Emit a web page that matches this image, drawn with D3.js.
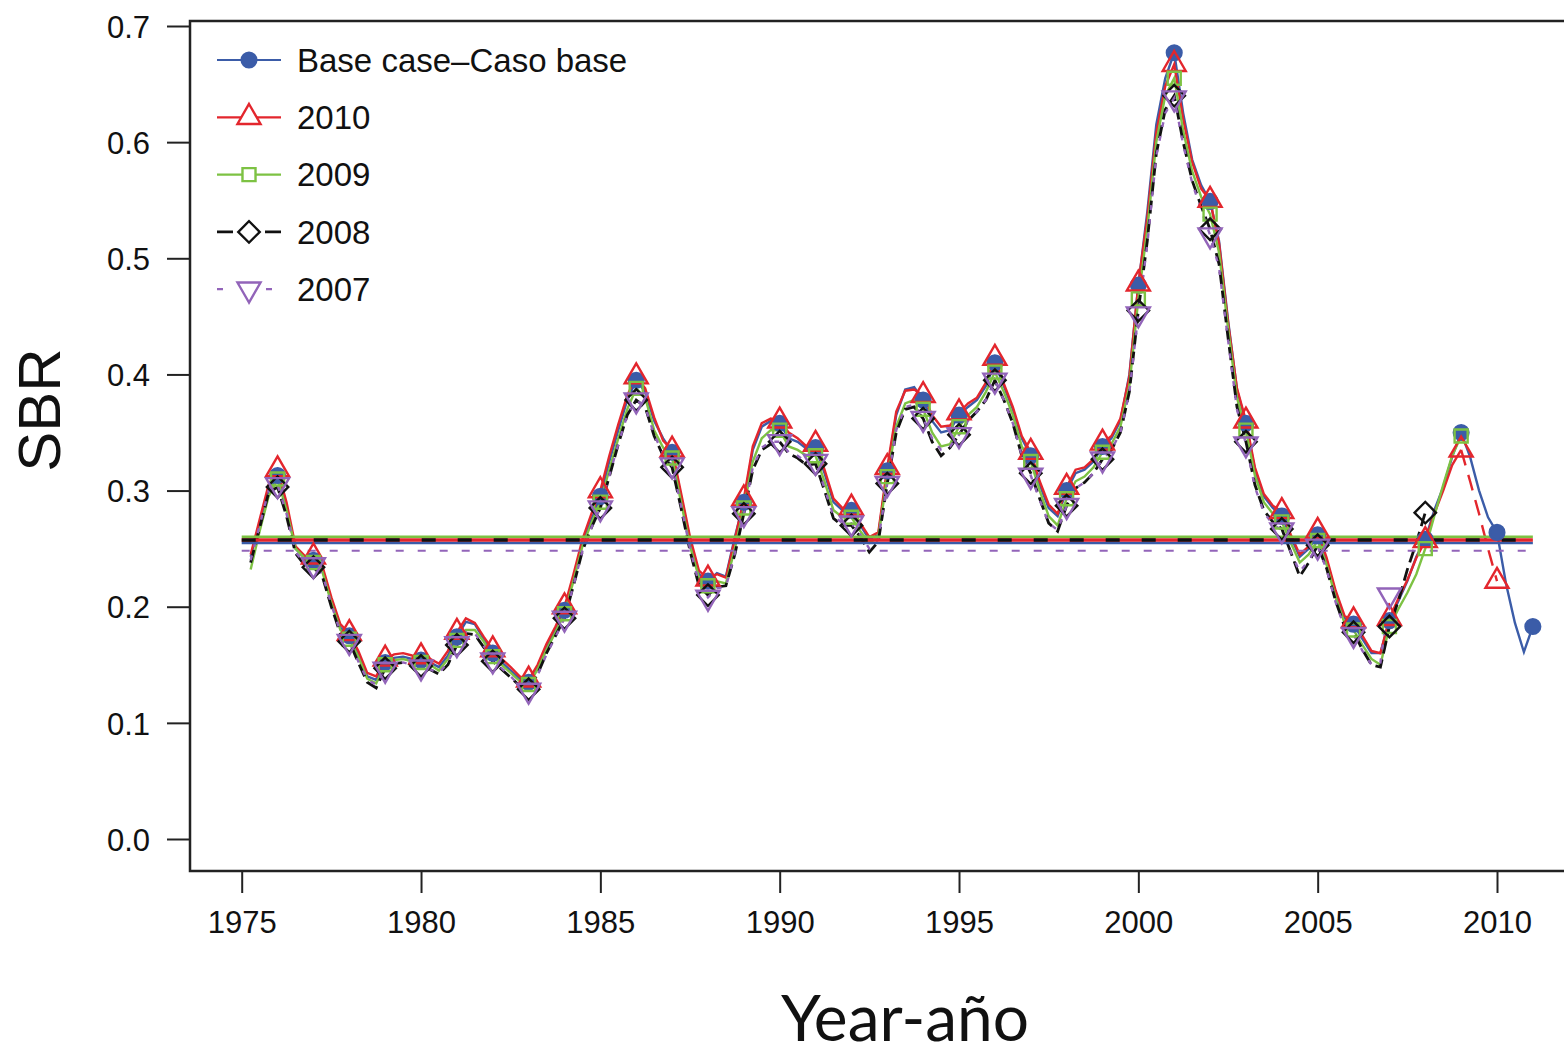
<!DOCTYPE html>
<html>
<head>
<meta charset="utf-8">
<script src="https://cdn.jsdelivr.net/npm/d3@7"></script>
<style>
	body { margin: 0; background: #fff; }
	text { font-family: "Liberation Sans", Arial, sans-serif; fill: #111; }
</style>
</head>
<body>
<div class="sbr-chart"></div>
<script>
// quarterly SBR values, first value is 1975.25 for every series
var seriesNames = ["Base case\u2013Caso base", "2010", "2009", "2008", "2007"];
var startYear = 1975.25;

var baseCase = [
	.243, .272, .300,
	.313, .285, .250, .242,  .240, .232, .205, .182,  .175, .160, .140, .137,  .152, .156, .157, .155,
	.154, .152, .148, .158,  .174, .187, .185, .172,  .160, .152, .145, .138,  .135, .148, .165, .180,
	.197, .225, .255, .275,  .295, .325, .352, .378,  .395, .385, .360, .345,  .333, .295, .257, .228,
	.222, .229, .226, .260,  .290, .335, .355, .360,  .358, .345, .342, .336,  .337, .315, .290, .283,
	.283, .270, .258, .262,  .317, .365, .387, .389,  .378, .360, .350, .352,  .365, .372, .378, .390,
	.410, .390, .370, .345,  .330, .305, .285, .278,  .300, .315, .318, .325,  .338, .345, .360, .400,
	.477, .540, .615, .655,  .677, .625, .585, .563,  .549, .515, .447, .387,  .358, .318, .295, .285,
	.278, .260, .243, .250,  .262, .240, .212, .190,  .185, .172, .160, .160,  .188, .205, .222, .243,
	.258, .283, .303, .329,  .350, .329, .300, .277,  .264, .220, .186, .161,  .183
];
var run2010 = [
	.245, .275, .305,
	.318, .290, .252, .244,  .243, .235, .208, .185,  .177, .162, .143, .140,  .155, .159, .160, .158,
	.157, .155, .151, .162,  .178, .190, .186, .174,  .163, .155, .148, .140,  .137, .150, .168, .183,
	.200, .228, .258, .280,  .300, .330, .357, .382,  .398, .388, .363, .343,  .335, .298, .260, .231,
	.224, .228, .225, .258,  .293, .338, .358, .362,  .360, .350, .345, .338,  .340, .318, .293, .285,
	.285, .272, .260, .264,  .320, .368, .386, .387,  .382, .365, .355, .356,  .367, .375, .380, .393,
	.414, .392, .372, .347,  .333, .308, .288, .280,  .303, .318, .320, .327,  .341, .347, .362, .398,
	.478, .535, .608, .648,  .667, .620, .583, .560,  .550, .513, .445, .388,  .360, .320, .297, .287,
	.282, .262, .245, .252,  .265, .242, .214, .192,  .188, .175, .162, .160,  .190, .207, .223, .242,
	.257, .280, .300, .322,  .335, .308, .280, .250,  .222
];
var run2009 = [
	.232, .265, .295,
	.310, .283, .250, .242,  .238, .230, .203, .180,  .172, .157, .138, .134,  .150, .154, .155, .153,
	.152, .150, .145, .155,  .171, .180, .180, .170,  .157, .150, .143, .136,  .133, .146, .163, .178,
	.194, .222, .252, .272,  .290, .318, .345, .370,  .388, .380, .352, .337,  .328, .290, .252, .225,
	.218, .222, .220, .250,  .285, .325, .345, .352,  .352, .338, .335, .330,  .330, .308, .283, .277,
	.277, .265, .255, .260,  .312, .355, .375, .378,  .370, .350, .338, .340,  .355, .365, .372, .385,
	.402, .385, .365, .338,  .325, .300, .278, .270,  .293, .308, .312, .320,  .333, .340, .355, .390,
	.465, .525, .600, .640,  .655, .610, .575, .553,  .538, .505, .440, .380,  .352, .313, .290, .280,
	.273, .255, .238, .245,  .257, .236, .208, .186,  .180, .167, .155, .150,  .183, .198, .212, .228,
	.250, .278, .305, .330,  .347
];
var run2008 = [
	.238, .268, .298,
	.303, .278, .246, .236,  .234, .226, .200, .177,  .170, .152, .135, .130,  .147, .151, .152, .150,
	.149, .146, .142, .150,  .167, .177, .176, .165,  .153, .146, .139, .132,  .129, .142, .160, .175,
	.190, .218, .248, .268,  .285, .312, .340, .365,  .378, .372, .347, .330,  .320, .285, .248, .218,
	.210, .217, .218, .245,  .280, .318, .335, .340,  .342, .332, .328, .322,  .323, .300, .276, .270,
	.270, .260, .247, .256,  .306, .350, .370, .372,  .362, .342, .330, .337,  .348, .360, .368, .378,
	.395, .378, .358, .330,  .315, .293, .272, .265,  .287, .302, .307, .315,  .327, .335, .350, .385,
	.455, .515, .590, .628,  .640, .600, .567, .545,  .525, .495, .432, .372,  .342, .305, .283, .273,
	.267, .247, .226, .238,  .253, .233, .205, .183,  .178, .163, .150, .148,  .183, .205, .232, .255,
	.281
];
var run2007 = [
	.240, .270, .300,
	.305, .280, .247, .238,  .236, .228, .202, .178,  .170, .153, .137, .133,  .146, .150, .152, .150,
	.148, .146, .143, .152,  .168, .178, .177, .166,  .154, .147, .140, .132,  .128, .141, .159, .174,
	.190, .218, .248, .268,  .285, .313, .340, .365,  .378, .372, .348, .332,  .322, .287, .250, .220,
	.208, .216, .217, .246,  .280, .320, .337, .342,  .342, .333, .330, .324,  .325, .302, .278, .272,
	.272, .262, .250, .258,  .306, .352, .372, .374,  .362, .345, .335, .338,  .348, .360, .368, .378,
	.395, .378, .358, .330,  .313, .292, .272, .266,  .287, .302, .307, .315,  .327, .335, .350, .385,
	.452, .512, .588, .625,  .638, .598, .565, .542,  .520, .492, .430, .370,  .340, .303, .281, .271,
	.266, .247, .230, .240,  .252, .232, .204, .182,  .176, .162, .150, .152,  .210
];
// SBR at MSY for each run (horizontal reference lines)
var refLevels = [0.2549, 0.2574, 0.2603, 0.2574, 0.2482];

var xTicks = [1975, 1980, 1985, 1990, 1995, 2000, 2005, 2010];
var yTicks = [0, 0.1, 0.2, 0.3, 0.4, 0.5, 0.6, 0.7];

var colors = ["#3b5ca8", "#e3262d", "#7dc243", "#111111", "#9264b9"];
var dashes = [null, null, null, "13,6", "5,9"];
var runs = [baseCase, run2010, run2009, run2008, run2007];

var data = runs.map(function(vals, k){
	return {
		name: seriesNames[k],
		ref: refLevels[k],
		color: colors[k],
		dash: dashes[k],
		idx: k,
		points: vals.map(function(v, i){ return {year: startYear + i/4, value: v}; })
	};
});

var width = 1564, height = 1056;
var frame = {left: 190, top: 21, bottom: 871, right: 1600};

var svg = d3.select(".sbr-chart").append("svg")
	.attr("width", width)
	.attr("height", height);

var x = d3.scaleLinear().domain([1975, 2010]).range([241.7, 1497]);
var y = d3.scaleLinear().domain([0, 0.7]).range([839, 26]);

var line = d3.line()
	.x(d => x(d.year))
	.y(d => y(d.value));

// markers like R pch 16, 2, 0, 5, 6
var symbolFor = [
	{type: d3.symbolCircle, size: 170, rot: 0, fill: true},
	{type: d3.symbolTriangle, size: 230, rot: 0, fill: false},
	{type: d3.symbolSquare, size: 170, rot: 0, fill: false},
	{type: d3.symbolSquare, size: 230, rot: 45, fill: false},
	{type: d3.symbolTriangle, size: 230, rot: 180, fill: false}
];

// frame
svg.append("path")
	.attr("d", "M" + frame.right + "," + frame.top + "H" + frame.left + "V" + frame.bottom + "H" + frame.right)
	.style("fill", "none")
	.style("stroke", "#222")
	.style("stroke-width", 2.5);

// axes
var yAxis = d3.axisLeft(y).tickValues(yTicks).tickFormat(d3.format(".1f")).tickSize(23).tickPadding(17);
var xAxis = d3.axisBottom(x).tickValues(xTicks).tickFormat(d3.format("d")).tickSize(22).tickPadding(18);

var gy = svg.append("g").attr("transform", "translate(" + frame.left + ",0)").call(yAxis);
var gx = svg.append("g").attr("transform", "translate(0," + frame.bottom + ")").call(xAxis);

[gx, gy].forEach(function(g){
	g.select(".domain").remove();
	g.selectAll(".tick line").style("stroke", "#222").style("stroke-width", 2);
	g.selectAll(".tick text")
		.style("font-family", "'Liberation Sans', Arial, sans-serif")
		.style("font-size", "31px")
		.style("fill", "#111");
});
gy.selectAll(".tick text").attr("dy", "0.36em");

// series lines
data.forEach(function(s){
	var pts = s.points;
	var solid = pts, tail = null;
	if (s.idx === 1) {
		// last year of the 2010 run is drawn dashed
		solid = pts.filter(d => d.year <= 2009);
		tail = pts.filter(d => d.year >= 2009);
	}
	svg.append("path")
		.datum(solid)
		.attr("d", line)
		.style("fill", "none")
		.style("stroke", s.color)
		.style("stroke-width", s.idx === 3 ? 2.8 : 2.4)
		.style("stroke-dasharray", s.dash);
	if (tail) {
		svg.append("path")
			.datum(tail)
			.attr("d", line)
			.style("fill", "none")
			.style("stroke", s.color)
			.style("stroke-width", 2.4)
			.style("stroke-dasharray", "16,10");
	}
});

// reference levels
var refOrder = [2, 0, 1, 3, 4];
refOrder.forEach(function(k){
	var s = data[k];
	svg.append("line")
		.attr("x1", x(1975)).attr("x2", x(2011))
		.attr("y1", y(s.ref)).attr("y2", y(s.ref))
		.style("stroke", s.color)
		.style("stroke-width", k === 1 || k === 3 ? 3.5 : (k === 4 ? 2 : 2.5))
		.style("stroke-dasharray", k === 3 ? "14,22" : (k === 4 ? "8,14" : null));
});

// markers at whole years
data.forEach(function(s){
	var yearly = s.points.filter(d => d.year % 1 === 0);
	var sym = symbolFor[s.idx];
	svg.selectAll(null)
		.data(yearly)
		.enter().append("path")
		.attr("d", d3.symbol().type(sym.type).size(sym.size)())
		.attr("transform", d => "translate(" + x(d.year) + "," + y(d.value) + ") rotate(" + sym.rot + ")")
		.style("fill", sym.fill ? s.color : "none")
		.style("stroke", s.color)
		.style("stroke-width", 2.4);
});

// legend
var legendDash = [null, null, null, "16,32", "6,43"];
var legend = svg.append("g");
data.forEach(function(s, i){
	var ly = 60 + i * 57.3;
	var g = legend.append("g").attr("transform", "translate(0," + ly + ")");
	g.append("line")
		.attr("x1", 217).attr("x2", s.idx === 4 ? 272 : 281)
		.style("stroke", s.color)
		.style("stroke-width", s.idx === 3 ? 2.8 : 2.2)
		.style("stroke-dasharray", legendDash[s.idx]);
	var sym = symbolFor[s.idx];
	g.append("path")
		.attr("d", d3.symbol().type(sym.type).size(sym.size)())
		.attr("transform", "translate(249,0) rotate(" + sym.rot + ")")
		.style("fill", sym.fill ? s.color : "#fff")
		.style("stroke", s.color)
		.style("stroke-width", 2.4);
	g.append("text")
		.attr("x", 297)
		.attr("dy", "0.36em")
		.style("font-size", "33px")
		.text(s.name);
});

// axis titles
svg.append("text")
	.attr("transform", "translate(60,410) rotate(-90)")
	.attr("text-anchor", "middle")
	.style("font-size", "60px")
	.text("SBR");

svg.append("text")
	.attr("x", 905)
	.attr("y", 1041)
	.attr("text-anchor", "middle")
	.style("font-family", "Lato, 'Open Sans', sans-serif")
	.style("font-size", "64px")
	.text("Year-a\u00f1o");
</script>
</body>
</html>
